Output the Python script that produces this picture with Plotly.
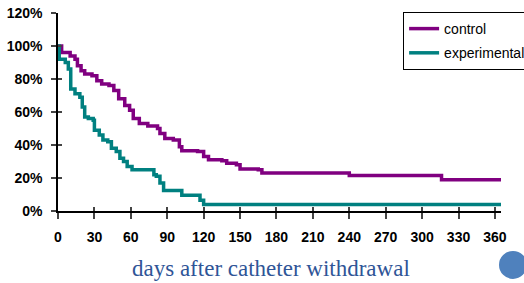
import plotly.graph_objects as go

# Kaplan-Meier style step curves (days, % without event)
control_days = [0, 3, 10, 14, 16, 19, 22, 28, 32, 36, 42, 46, 50, 55, 59, 62, 67, 74, 82, 84, 88,
                95, 100, 102, 115, 120, 124, 135, 139, 147, 150, 165, 168, 240, 316, 365]
control_vals = [100, 96, 94, 92, 88, 85, 83, 82, 79, 77, 76, 73, 68, 64, 61, 56, 53, 51.5, 50, 47, 44,
                43, 39, 36.5, 36, 33, 31, 30.5, 29, 28, 25.5, 25, 23, 21.5, 19, 19]

exp_days = [0, 1, 6, 8.5, 10.5, 14, 18, 20, 22, 25, 29, 30, 34, 37, 41, 44, 48, 51, 54, 57, 61,
            79, 81, 84, 87, 102, 117, 120, 365]
exp_vals = [100, 92, 90, 86, 74, 71, 69, 63, 57, 56, 55, 49, 46, 43, 42, 38, 36, 32, 30, 27, 25,
            22, 21, 17, 12.5, 9.5, 6.5, 4, 4]

x_ticks = [0, 30, 60, 90, 120, 150, 180, 210, 240, 270, 300, 330, 360]
y_ticks = [0, 20, 40, 60, 80, 100, 120]
y_tick_labels = ["0%", "20%", "40%", "60%", "80%", "100%", "120%"]

TICK_FONT = dict(family="Liberation Sans, Arial, sans-serif", size=14, color="black")

fig = go.Figure()
fig.add_trace(go.Scatter(x=control_days, y=control_vals, mode="lines", name="control",
                         legendgroup="c",
                         line=dict(color="#800080", width=3.5, shape="hv")))
fig.add_trace(go.Scatter(x=exp_days, y=exp_vals, mode="lines", name="experimental",
                         legendgroup="e",
                         line=dict(color="#008080", width=3.5, shape="hv")))

fig.update_layout(
    width=524, height=283,
    margin=dict(l=58, r=23, t=13, b=72, autoexpand=False),
    paper_bgcolor="white", plot_bgcolor="white",
    showlegend=True,
    legend=dict(x=0.779, y=1.005, xanchor="left", yanchor="top",
                bordercolor="black", borderwidth=1, bgcolor="white",
                font=dict(family="Liberation Sans, Arial, sans-serif", size=14, color="black"),
                itemwidth=30, traceorder="grouped", tracegroupgap=3),
    xaxis=dict(range=[0, 365], tickvals=x_ticks, ticktext=[str(v) for v in x_ticks],
               showgrid=False, zeroline=False, showline=True, linecolor="black", linewidth=1.5,
               ticks="outside", ticklen=6, tickcolor="#444", tickwidth=1.5, automargin=False,
               tickfont=dict(**TICK_FONT, weight="bold"), ticklabelstandoff=6),
    yaxis=dict(range=[0, 120], tickvals=y_ticks, ticktext=y_tick_labels,
               showgrid=False, zeroline=False, showline=True, linecolor="black", linewidth=1.5,
               ticks="outside", ticklen=5, tickcolor="#444", tickwidth=1.5, automargin=False,
               tickfont=dict(**TICK_FONT, weight="bold"), ticklabelstandoff=6),
    xaxis2=dict(range=[0, 365], tickvals=x_ticks, showticklabels=False, overlaying="x",
                showgrid=False, zeroline=False, showline=False, automargin=False,
                ticks="inside", ticklen=4, tickcolor="#444", tickwidth=1.5, side="bottom"),
    yaxis2=dict(range=[0, 120], tickvals=y_ticks, showticklabels=False, overlaying="y",
                showgrid=False, zeroline=False, showline=False, automargin=False,
                ticks="inside", ticklen=4, tickcolor="#444", tickwidth=1.5, side="left"),
    annotations=[dict(text="days after catheter withdrawal", xref="paper", yref="paper",
                      x=0.48, y=-0.29, xanchor="center", yanchor="middle", showarrow=False,
                      font=dict(family="Liberation Serif, Times New Roman, serif", size=23,
                                color="#2F5597"))],
    shapes=[dict(type="circle", xref="paper", yref="paper", x0=0.9955, x1=1.0587,
                 y0=-0.343, y1=-0.202, fillcolor="#4F81BD", line=dict(width=0), layer="above")],
)
# invisible trace to activate overlay axes for crossing tick marks
fig.add_trace(go.Scatter(x=[0], y=[0], xaxis="x2", yaxis="y2", mode="markers",
                         marker=dict(opacity=0), showlegend=False, hoverinfo="skip"))

fig.write_html("out.html", config={"displayModeBar": False},
               post_script="document.body.style.margin='0';document.body.style.overflow='hidden';")
